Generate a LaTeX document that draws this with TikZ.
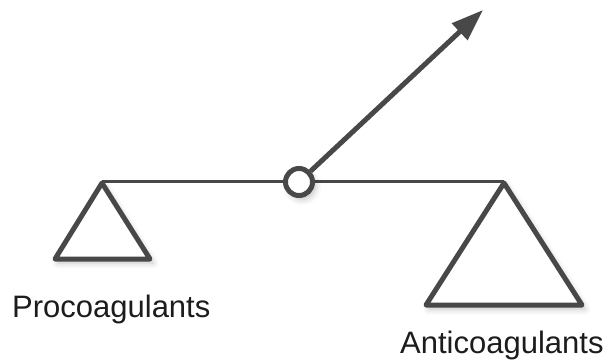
\documentclass[tikz,border=0pt]{standalone}
\usepackage{fontspec}
\setmainfont{Liberation Sans}
\usetikzlibrary{arrows.meta,shadows.blur}
\definecolor{ink}{HTML}{484848}
\definecolor{txt}{HTML}{1C1C1C}
\begin{document}
\begin{tikzpicture}[x=1pt,y=-1pt,
  soft/.style={blur shadow={shadow xshift=3pt,shadow yshift=-4pt,
      shadow blur radius=6pt,shadow opacity=25}},
  pan/.style={draw=ink,line width=5pt,line join=round,fill=white,soft},
  beam/.style={draw=ink,line width=3pt},
  lever/.style={draw=ink,line width=5pt,-{Triangle[length=32pt,width=22pt]}},
  label/.style={font=\fontsize{31}{36}\selectfont,text=txt,inner sep=0pt,anchor=base west}]
  \useasboundingbox (0,0) rectangle (608,364);

  % suspension points of the two pans
  \coordinate (lefttop) at (102,183);
  \coordinate (righttop) at (504,183);
  \coordinate (tip) at (483,10);

  % beam of the balance
  \draw[beam] (102,181) -- (504,181);

  % pans
  \path[pan] (lefttop) -- (55,259) -- (150,259) -- cycle;
  \path[pan] (righttop) -- (426,305) -- (582,305) -- cycle;

  % pivot and pointer
  \node (pivot) [circle,draw=ink,line width=5pt,fill=white,minimum size=27pt,inner sep=0pt,soft] at (299,182) {};
  \draw[lever] (pivot) -- (tip);

  % labels
  \node[label] (pro) at (12,317) {Procoagulants};
  \node[label] (anti) at (400,353) {Anticoagulants};
\end{tikzpicture}
\end{document}
